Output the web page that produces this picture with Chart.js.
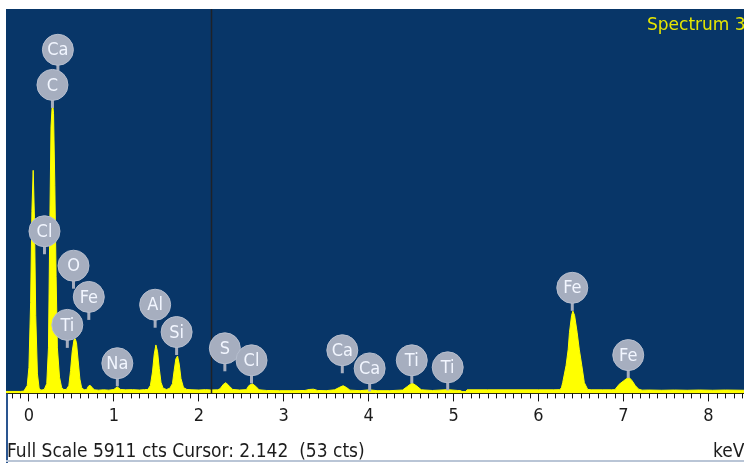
<!DOCTYPE html>
<html>
<head>
<meta charset="utf-8">
<script src="https://cdn.jsdelivr.net/npm/chart.js@4.4.1/dist/chart.umd.min.js"></script>
<style>
html,body{margin:0;padding:0;background:#fff;}
#wrap{position:relative;width:744px;height:463px;overflow:hidden;}
canvas{display:block;}
</style>
</head>
<body>
<div id="wrap"><canvas id="c" width="744" height="463"></canvas></div>
<script>
// EDS spectrum: energy (keV) and counts per point
const energyKeV = [
  -0.27, -0.10, -0.06, -0.02, 0.00, 0.02, 0.035, 0.05, 0.065, 0.08, 0.10, 0.12, 0.14, 0.16,
  0.18, 0.21, 0.23, 0.245, 0.26, 0.277, 0.29, 0.305, 0.32, 0.335, 0.36, 0.385, 0.41,
  0.44, 0.47, 0.49, 0.51, 0.53, 0.545, 0.56, 0.58, 0.60, 0.62, 0.65, 0.68,
  0.70, 0.72, 0.745, 0.77, 0.82, 0.88, 0.94, 1.00, 1.04, 1.08, 1.14, 1.22, 1.30, 1.36,
  1.40, 1.43, 1.455, 1.475, 1.495, 1.515, 1.535, 1.555, 1.58, 1.62, 1.66,
  1.69, 1.71, 1.73, 1.75, 1.77, 1.79, 1.82, 1.86, 1.92, 2.00, 2.08, 2.14, 2.22,
  2.25, 2.29, 2.32, 2.36, 2.40, 2.48, 2.56,
  2.59, 2.63, 2.67, 2.71, 2.80, 2.95, 3.10, 3.25, 3.30, 3.35, 3.40, 3.50, 3.60,
  3.66, 3.70, 3.74, 3.78, 3.90, 4.01, 4.10, 4.25, 4.40,
  4.46, 4.51, 4.56, 4.62, 4.75, 4.93, 5.05, 5.08, 5.10, 5.14, 5.16, 5.40, 5.70, 6.00, 6.18,
  6.25, 6.27, 6.285, 6.325, 6.35, 6.365, 6.39, 6.405, 6.425, 6.455, 6.48, 6.51, 6.54, 6.58, 6.62, 6.75, 6.86,
  6.90, 6.95, 7.00, 7.04, 7.07, 7.10, 7.14, 7.18, 7.22,
  7.30, 7.45, 7.60, 7.75, 7.90, 8.05, 8.20, 8.42
];
const counts = [
  30, 30, 35, 120, 400, 1400, 2800, 3430, 2700, 1200, 300, 80, 50, 55,
  60, 150, 700, 2500, 4100, 4500, 4300, 3200, 1800, 700, 250, 90, 60,
  60, 120, 350, 650, 820, 840, 780, 500, 220, 90, 55, 60,
  110, 125, 90, 55, 50, 55, 50, 60, 100, 60, 55, 58, 52, 58,
  60, 120, 330, 600, 745, 640, 380, 170, 80, 60, 80,
  150, 350, 530, 575, 450, 230, 90, 60, 55, 52, 58, 53, 55,
  70, 140, 165, 110, 60, 52, 58,
  120, 148, 110, 55, 45, 42, 42, 45, 60, 65, 45, 42, 55,
  95, 118, 90, 50, 42, 55, 42, 42, 52,
  110, 160, 120, 55, 45, 58, 45, 45, 28, 28, 55, 55, 55, 55, 55,
  58, 85, 165, 430, 680, 940, 1200, 1265, 1200, 940, 680, 430, 165, 60, 55, 55, 55,
  58, 140, 190, 230, 240, 200, 120, 65, 50,
  52, 48, 52, 48, 52, 48, 52, 48
];

// x axis
const xMinKeV = -0.27;
const xMaxKeV = 8.42;
const tickValues = [0, 1, 2, 3, 4, 5, 6, 7, 8];
const tickLabels = ['0', '1', '2', '3', '4', '5', '6', '7', '8'];
const minorStepKeV = 0.1;

// element markers: symbol, line energy (keV), count where the pin ends
const markerElements = ['Cl', 'C', 'Ca', 'Ti', 'O', 'Fe', 'Na', 'Al', 'Si', 'S', 'Cl', 'Ca', 'Ca', 'Ti', 'Ti', 'Fe', 'Fe'];
const markerEnergies = [0.183, 0.277, 0.341, 0.452, 0.525, 0.705, 1.041, 1.486, 1.739, 2.307, 2.621, 3.690, 4.012, 4.508, 4.931, 6.398, 7.057];
const markerCounts   = [2140, 4390, 4930, 700, 1610, 1130, 110, 1010, 590, 340, 155, 310, 31, 155, 47, 1270, 235];

const fullScaleCounts = 5911;
const cursorKeV = 2.142;
const cursorCounts = 53;
const spectrumName = 'Spectrum 3';
const axisUnit = 'keV';

const NARROW = "'Liberation Sans Narrow', 'Arial Narrow', 'DejaVu Sans Condensed', sans-serif";

const edsDecor = {
  id: 'edsDecor',
  beforeDraw(chart) {
    const { ctx, chartArea: a } = chart;
    ctx.save();
    ctx.fillStyle = '#083668';
    ctx.fillRect(a.left, a.top, a.right - a.left, a.bottom - a.top);
    ctx.restore();
  },
  afterDatasetsDraw(chart) {
    const { ctx, chartArea: a, scales: { x, y } } = chart;
    ctx.save();
    // cursor line
    const cx = Math.round(x.getPixelForValue(cursorKeV)) + 0.5;
    ctx.strokeStyle = '#1e2228';
    ctx.lineWidth = 1.5;
    ctx.beginPath();
    ctx.moveTo(cx, a.top);
    ctx.lineTo(cx, a.bottom);
    ctx.stroke();

    // element markers
    const R = 15.5, STEM = 23;
    const pos = markerElements.map((el, i) => ({
      el,
      px: x.getPixelForValue(markerEnergies[i]),
      tip: y.getPixelForValue(markerCounts[i])
    }));
    ctx.strokeStyle = '#a6aebf';
    ctx.lineWidth = 3;
    pos.forEach(p => {
      ctx.beginPath();
      ctx.moveTo(p.px, p.tip - STEM);
      ctx.lineTo(p.px, p.tip);
      ctx.stroke();
    });
    pos.forEach(p => {
      const cy = p.tip - STEM;
      ctx.beginPath();
      ctx.arc(p.px, cy, R, 0, Math.PI * 2);
      ctx.fillStyle = '#a6aebf';
      ctx.fill();
      ctx.lineWidth = 1;
      ctx.strokeStyle = '#b6bece';
      ctx.stroke();
      ctx.fillStyle = '#f2f6ff';
      ctx.font = '18px ' + NARROW;
      ctx.textAlign = 'center';
      ctx.textBaseline = 'middle';
      ctx.fillText(p.el, p.px, cy + 1);
    });

    // spectrum name
    ctx.fillStyle = '#e6e600';
    ctx.font = "17px 'DejaVu Sans', sans-serif";
    ctx.textAlign = 'left';
    ctx.textBaseline = 'alphabetic';
    ctx.fillText(spectrumName, 647, 30);
    ctx.restore();
  },
  afterDraw(chart) {
    const { ctx, chartArea: a, scales: { x } } = chart;
    ctx.save();
    // minor ticks
    ctx.strokeStyle = '#111';
    ctx.lineWidth = 1;
    const k0 = Math.ceil(xMinKeV / minorStepKeV), k1 = Math.floor(xMaxKeV / minorStepKeV);
    ctx.beginPath();
    for (let k = k0; k <= k1; k++) {
      if (k % 10 === 0) continue;
      const px = Math.round(x.getPixelForValue(k * minorStepKeV)) + 0.5;
      ctx.moveTo(px, a.bottom);
      ctx.lineTo(px, a.bottom + 5);
    }
    ctx.stroke();

    // frame below the plot
    ctx.strokeStyle = '#2a5590';
    ctx.lineWidth = 2;
    ctx.beginPath();
    ctx.moveTo(a.left + 1, a.bottom);
    ctx.lineTo(a.left + 1, 463);
    ctx.stroke();
    ctx.strokeStyle = '#b9c5d6';
    ctx.lineWidth = 2;
    ctx.beginPath();
    ctx.moveTo(a.left, 461);
    ctx.lineTo(744, 461);
    ctx.stroke();

    // footer
    ctx.fillStyle = '#1c1c1c';
    ctx.font = '19px ' + NARROW;
    ctx.textBaseline = 'middle';
    ctx.textAlign = 'left';
    ctx.fillText(`Full Scale ${fullScaleCounts} cts Cursor: ${cursorKeV.toFixed(3)}  (${cursorCounts} cts)`, 7, 452);
    ctx.fillText(axisUnit, 713, 452);
    ctx.restore();
  }
};

new Chart(document.getElementById('c'), {
  type: 'line',
  data: {
    datasets: [{
      data: energyKeV.map((e, i) => ({ x: e, y: counts[i] })),
      fill: 'origin',
      backgroundColor: '#ffff00',
      borderColor: '#ffff00',
      borderWidth: 1,
      pointRadius: 0,
      tension: 0
    }]
  },
  options: {
    responsive: false,
    animation: false,
    devicePixelRatio: 1,
    layout: { padding: { left: 6, top: 9, right: 0, bottom: 32 } },
    plugins: { legend: { display: false }, tooltip: { enabled: false } },
    scales: {
      x: {
        type: 'linear',
        min: xMinKeV,
        max: xMaxKeV,
        afterBuildTicks: s => { s.ticks = tickValues.map(v => ({ value: v })); },
        ticks: {
          autoSkip: false,
          maxRotation: 0,
          padding: 4,
          color: '#1c1c1c',
          font: { family: NARROW, size: 18 },
          callback: v => tickLabels[tickValues.indexOf(v)]
        },
        grid: { drawOnChartArea: false, tickLength: 8, tickColor: '#111', tickWidth: 1 },
        border: { display: true, color: '#111', width: 1 }
      },
      y: { display: false, min: 0, max: fullScaleCounts }
    }
  },
  plugins: [edsDecor]
});
</script>
</body>
</html>
